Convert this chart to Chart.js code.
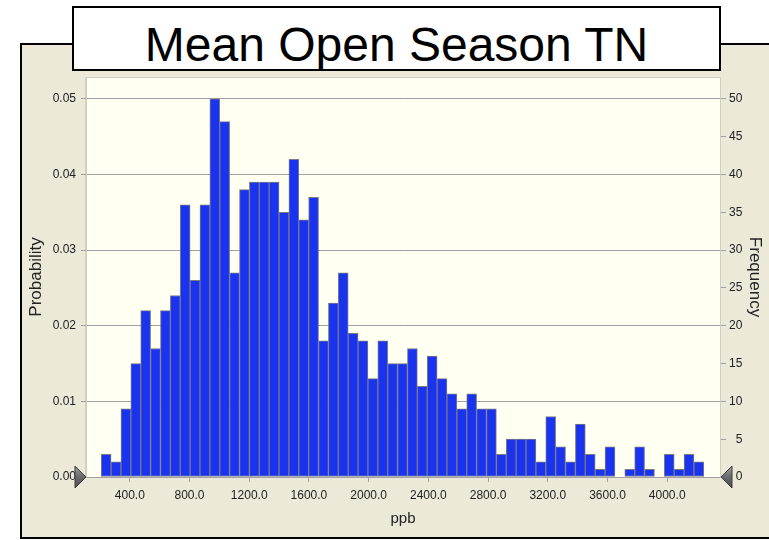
<!DOCTYPE html>
<html lang="en">
<head>
    <meta charset="UTF-8">
    <title>Mean Open Season TN</title>
    <script src="https://cdn.jsdelivr.net/npm/chart.js"></script>
    <style>
        body {
            margin: 0;
            background: #ffffff;
            font-family: 'Liberation Sans', Arial, sans-serif;
        }
        .panel {
            position: absolute;
            left: 20px;
            top: 43px;
            width: 760px;
            height: 496px;
            box-sizing: border-box;
            border: 2px solid #000;
            background: #ece9d8;
        }
        .title-box {
            position: absolute;
            left: 72px;
            top: 6px;
            width: 649px;
            height: 65px;
            box-sizing: border-box;
            border: 2px solid #000;
            background: #ffffff;
            padding-top: 12px;
            line-height: 49px;
            font-size: 48px;
            text-align: center;
            color: #000;
            z-index: 2;
        }
        #histChart {
            position: absolute;
            left: 0;
            top: 0;
            z-index: 1;
        }
    </style>
</head>
<body>
<div class="panel"></div>
<div class="title-box">Mean Open Season TN</div>
<canvas id="histChart" width="769" height="540"></canvas>

<script>
    // histogram bins (ppb)
    const binStart = 208.4;
    const binWidth = 66.18;

    // trial counts per bin
    const frequencies = [
        3, 2, 9, 15, 22, 17, 22, 24, 36, 26,
        36, 50, 47, 27, 38, 39, 39, 39, 35, 42,
        34, 37, 18, 23, 27, 19, 18, 13, 18, 15,
        15, 17, 12, 16, 13, 11, 9, 11, 9, 9,
        3, 5, 5, 5, 2, 8, 4, 2, 7, 3,
        1, 4, 0, 1, 4, 1, 0, 3, 1, 3,
        2
    ];
    const trials = 1000;

    // axis ticks
    const ppbTicks = [400, 800, 1200, 1600, 2000, 2400, 2800, 3200, 3600, 4000];
    const probabilityTicks = [0, 0.01, 0.02, 0.03, 0.04, 0.05];
    const frequencyTicks = [0, 5, 10, 15, 20, 25, 30, 35, 40, 45, 50];

    // axis ranges
    const ppbMin = 106.6;
    const ppbMax = 4353.7;
    const frequencyMax = 52.9;

    const binCenters = frequencies.map((_, i) => binStart + (i + 0.5) * binWidth);

    // cream plot background + the two grey grabbers on the zero line
    const plotDecor = {
        id: 'plotDecor',
        beforeDraw(chart) {
            const {ctx, chartArea: a} = chart;
            ctx.save();
            ctx.fillStyle = '#fffff2';
            ctx.fillRect(a.left, a.top, a.right - a.left, a.bottom - a.top);
            ctx.strokeStyle = '#cfcfc4';
            ctx.lineWidth = 1;
            ctx.strokeRect(a.left - 0.5, a.top + 0.5, a.right - a.left + 1, a.bottom - a.top);
            ctx.restore();
        },
        afterDraw(chart) {
            const {ctx, chartArea: a} = chart;
            const y0 = chart.scales.y2.getPixelForValue(0);
            const drawGrabber = (tipX, baseX) => {
                const g = ctx.createLinearGradient(0, y0 - 12, 0, y0 + 12);
                g.addColorStop(0, '#a4a4a4');
                g.addColorStop(0.5, '#6a6a6a');
                g.addColorStop(1, '#4a4a4a');
                ctx.beginPath();
                ctx.moveTo(baseX, y0 - 11);
                ctx.lineTo(tipX, y0);
                ctx.lineTo(baseX, y0 + 11);
                ctx.closePath();
                ctx.fillStyle = g;
                ctx.fill();
                ctx.strokeStyle = '#3c3c3c';
                ctx.lineWidth = 1;
                ctx.stroke();
            };
            ctx.save();
            drawGrabber(a.left, a.left - 11);
            drawGrabber(a.right + 1, a.right + 12);
            ctx.restore();
        }
    };

    Chart.defaults.font.family = "'Liberation Sans', Arial, sans-serif";
    Chart.defaults.color = '#222';

    const config = {
        type: 'bar',
        data: {
            datasets: [{
                label: 'Frequency',
                data: binCenters.map((x, i) => ({x: x, y: frequencies[i]})),
                yAxisID: 'y2',
                backgroundColor: '#1a33ee',
                borderColor: '#7a7a8a',
                borderWidth: 1,
                borderSkipped: false,
                barPercentage: 1,
                categoryPercentage: 1
            }]
        },
        options: {
            responsive: false,
            animation: false,
            layout: {
                padding: {top: 77, left: 0, right: 0, bottom: 0}
            },
            plugins: {
                legend: {display: false},
                tooltip: {enabled: false}
            },
            scales: {
                x: {
                    type: 'linear',
                    position: 'bottom',
                    offset: false,
                    min: ppbMin,
                    max: ppbMax,
                    afterFit: s => { s.height = 63; },
                    afterBuildTicks: s => { s.ticks = ppbTicks.map(v => ({value: v})); },
                    ticks: {
                        padding: 6,
                        maxRotation: 0,
                        font: {size: 12},
                        callback: v => v.toFixed(1)
                    },
                    grid: {
                        drawOnChartArea: false,
                        offset: false,
                        tickLength: 5,
                        color: '#a0a0a0'
                    },
                    border: {color: '#a0a0a0'},
                    title: {
                        display: true,
                        text: 'ppb',
                        font: {size: 15},
                        padding: {top: 0, bottom: 12}
                    }
                },
                y: {
                    position: 'left',
                    min: 0,
                    max: frequencyMax / trials,
                    afterFit: s => { s.width = 86; },
                    afterBuildTicks: s => { s.ticks = probabilityTicks.map(v => ({value: v})); },
                    ticks: {
                        padding: 5,
                        font: {size: 12},
                        callback: v => v.toFixed(2)
                    },
                    grid: {
                        color: '#a0a0a0',
                        tickLength: 5
                    },
                    border: {color: '#cfcfc4'},
                    title: {
                        display: true,
                        text: 'Probability',
                        font: {size: 17},
                        padding: {top: 26, bottom: 0}
                    }
                },
                y2: {
                    position: 'right',
                    min: 0,
                    max: frequencyMax,
                    afterFit: s => { s.width = 49; },
                    afterBuildTicks: s => { s.ticks = frequencyTicks.map(v => ({value: v})); },
                    ticks: {
                        padding: 3,
                        font: {size: 12},
                        // right-align the counts with figure spaces
                        callback: v => String(v).padStart(2, '\u2007')
                    },
                    grid: {
                        drawOnChartArea: false,
                        color: '#a0a0a0',
                        tickLength: 6
                    },
                    border: {color: '#cfcfc4'},
                    title: {
                        display: true,
                        text: 'Frequency',
                        font: {size: 17},
                        padding: {top: 4, bottom: 0}
                    }
                }
            }
        },
        plugins: [plotDecor]
    };

    const ctx = document.getElementById('histChart').getContext('2d');
    const histChart = new Chart(ctx, config);
</script>
</body>
</html>
